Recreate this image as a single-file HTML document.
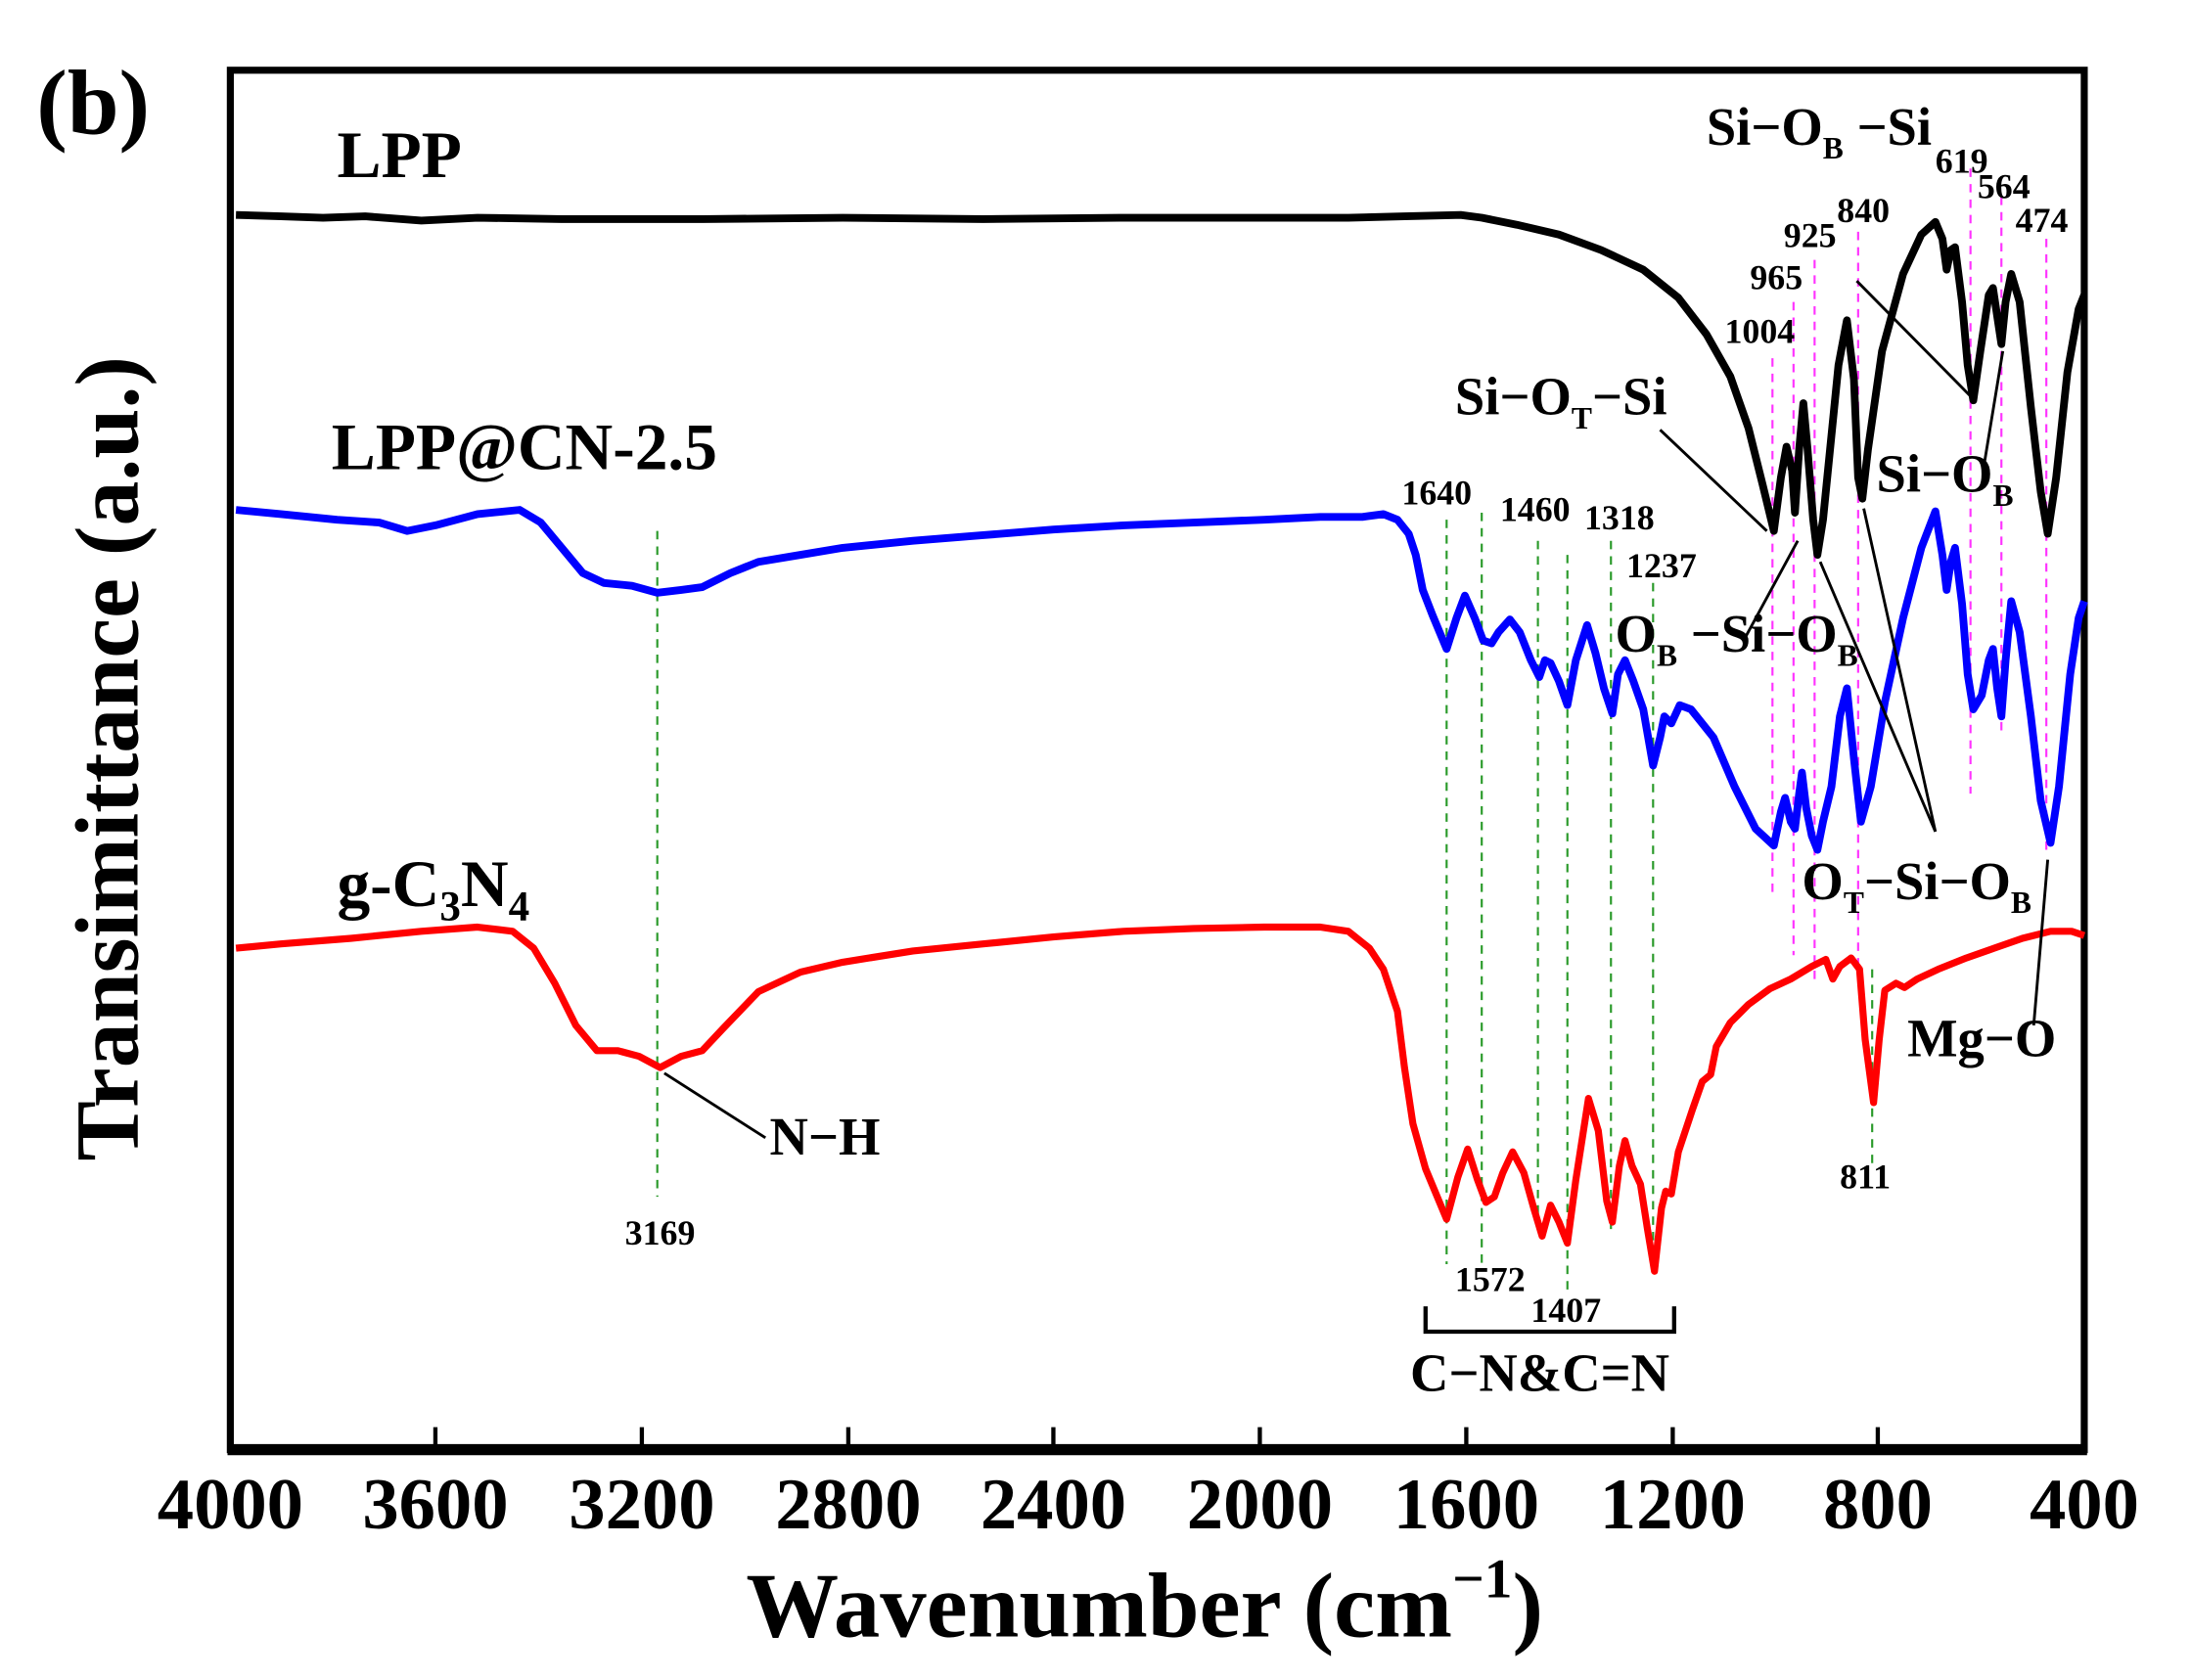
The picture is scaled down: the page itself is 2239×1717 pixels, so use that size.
<!DOCTYPE html>
<html><head><meta charset="utf-8"><style>
html,body{margin:0;padding:0;background:#fff;}
svg{display:block;}
text{font-family:"Liberation Serif",serif;font-weight:bold;fill:#000;}
</style></head><body>
<svg width="2239" height="1717" viewBox="0 0 1560 1196" preserveAspectRatio="none" xmlns="http://www.w3.org/2000/svg">
<rect x="0" y="0" width="1560" height="1196" fill="#fff"/>
<rect x="164" y="50" width="1320" height="982" fill="none" stroke="#000" stroke-width="5"/>
<line x1="162" y1="1032" x2="1486" y2="1032" stroke="#000" stroke-width="8"/>
<g stroke="#000" stroke-width="3">
<line x1="310" y1="1032" x2="310" y2="1016"/><line x1="457" y1="1032" x2="457" y2="1016"/>
<line x1="604" y1="1032" x2="604" y2="1016"/><line x1="750" y1="1032" x2="750" y2="1016"/>
<line x1="897" y1="1032" x2="897" y2="1016"/><line x1="1044" y1="1032" x2="1044" y2="1016"/>
<line x1="1191" y1="1032" x2="1191" y2="1016"/><line x1="1337" y1="1032" x2="1337" y2="1016"/>
</g>
<g font-size="52" text-anchor="middle">
<text x="164" y="1088">4000</text><text x="310" y="1088">3600</text><text x="457" y="1088">3200</text>
<text x="604" y="1088">2800</text><text x="750" y="1088">2400</text><text x="897" y="1088">2000</text>
<text x="1044" y="1088">1600</text><text x="1191" y="1088">1200</text><text x="1337" y="1088">800</text>
<text x="1484" y="1088">400</text>
</g>
<text x="815" y="1165" font-size="66" text-anchor="middle">Wavenumber (cm<tspan font-size="40" dy="-28">−1</tspan><tspan dy="28">)</tspan></text>
<text transform="translate(98,540) rotate(-90)" font-size="64" text-anchor="middle">Transimittance (a.u.)</text>
<text x="26" y="95" font-size="66">(b)</text>
<text x="240" y="126" font-size="47">LPP</text>
<text x="236" y="334" font-size="47">LPP@CN-2.5</text>
<text x="240" y="645" font-size="47">g-C<tspan font-size="30" dy="10">3</tspan><tspan dy="-10">N</tspan><tspan font-size="30" dy="10">4</tspan></text>

<g stroke="#2a9a2a" stroke-width="1.5" stroke-dasharray="6,5" fill="none">
<line x1="468" y1="378" x2="468" y2="852"/><line x1="1030" y1="370" x2="1030" y2="900"/>
<line x1="1055" y1="365" x2="1055" y2="905"/><line x1="1095" y1="385" x2="1095" y2="880"/>
<line x1="1116" y1="395" x2="1116" y2="922"/><line x1="1147" y1="385" x2="1147" y2="880"/>
<line x1="1177" y1="415" x2="1177" y2="905"/><line x1="1333" y1="690" x2="1333" y2="832"/>
</g>
<g stroke="#ff33ff" stroke-width="1.5" stroke-dasharray="6,5" fill="none">
<line x1="1262" y1="255" x2="1262" y2="640"/><line x1="1277" y1="215" x2="1277" y2="680"/>
<line x1="1292" y1="185" x2="1292" y2="700"/><line x1="1323" y1="165" x2="1323" y2="690"/>
<line x1="1403" y1="120" x2="1403" y2="565"/><line x1="1425" y1="140" x2="1425" y2="520"/>
<line x1="1457" y1="170" x2="1457" y2="610"/>
</g>

<polyline fill="none" stroke="#000" stroke-width="5.5" stroke-linejoin="round" points="168,153 200,154 230,155 260,154 300,157 340,155 400,156 500,156 600,155 700,156 800,155 900,155 960,155 1000,154 1040,153 1055,155 1080,160 1110,167 1140,178 1170,192 1195,212 1215,238 1232,268 1245,305 1255,345 1263,378 1268,340 1272,318 1276,335 1278,365 1281,320 1284,287 1287,320 1291,370 1294,395 1298,370 1303,320 1309,260 1315,228 1320,270 1323,340 1326,355 1330,320 1340,250 1355,195 1368,167 1378,158 1383,170 1386,192 1389,178 1392,176 1397,215 1401,260 1405,285 1410,250 1416,210 1419,205 1422,225 1425,245 1428,215 1432,195 1438,215 1446,290 1453,350 1458,380 1464,340 1472,265 1480,220 1484,210"/>
<polyline fill="none" stroke="#0000ff" stroke-width="5.5" stroke-linejoin="round" points="168,363 200,366 240,370 270,372 290,378 310,374 340,366 370,363 385,372 400,390 415,408 430,415 450,417 468,422 485,420 500,418 520,408 540,400 570,395 600,390 650,385 700,381 750,377 800,374 850,372 900,370 940,368 970,368 985,366 995,370 1003,380 1008,395 1013,420 1020,438 1030,462 1037,440 1043,424 1050,440 1056,456 1062,458 1067,450 1075,441 1082,450 1090,470 1096,482 1100,470 1104,472 1110,485 1116,502 1122,470 1130,445 1136,465 1142,490 1148,508 1152,480 1157,470 1163,485 1170,505 1177,545 1182,525 1185,510 1190,515 1196,502 1204,505 1212,515 1220,525 1235,560 1250,590 1263,602 1268,578 1271,568 1275,585 1278,590 1281,565 1283,550 1286,575 1290,595 1294,605 1298,585 1304,560 1310,510 1315,490 1320,540 1325,585 1332,560 1342,500 1355,440 1368,390 1378,364 1383,395 1386,420 1389,400 1392,390 1397,430 1401,480 1405,505 1411,495 1416,470 1419,462 1422,490 1425,510 1428,470 1432,428 1438,450 1446,510 1453,570 1460,600 1466,560 1474,480 1480,440 1484,428"/>
<polyline fill="none" stroke="#ff0000" stroke-width="5" stroke-linejoin="round" points="168,675 200,672 250,668 300,663 340,660 365,663 380,675 395,700 410,730 425,748 440,748 455,752 470,760 485,752 500,748 515,732 540,706 570,692 600,685 650,677 700,672 750,667 800,663 850,661 900,660 940,660 960,663 975,675 985,690 995,720 1000,760 1006,800 1015,832 1030,868 1038,838 1045,818 1052,840 1058,856 1064,852 1070,835 1077,820 1085,835 1092,860 1098,880 1104,858 1110,870 1116,885 1122,840 1131,782 1138,805 1144,855 1148,870 1153,830 1157,812 1162,830 1168,843 1173,875 1178,905 1183,860 1186,848 1190,850 1195,820 1205,790 1212,770 1218,765 1222,745 1232,728 1245,715 1260,704 1275,697 1290,688 1300,683 1305,697 1310,688 1318,682 1324,690 1328,740 1334,785 1338,740 1342,705 1350,700 1356,703 1365,697 1380,690 1400,682 1420,675 1440,668 1460,663 1475,663 1484,666"/>

<g font-size="25">
<text x="1228" y="244">1004</text><text x="1246" y="206">965</text><text x="1270" y="176">925</text>
<text x="1308" y="158">840</text><text x="1378" y="123">619</text><text x="1408" y="141">564</text>
<text x="1435" y="165">474</text><text x="998" y="359">1640</text><text x="1068" y="371">1460</text>
<text x="1128" y="377">1318</text><text x="1158" y="411">1237</text><text x="445" y="886">3169</text>
<text x="1036" y="919">1572</text><text x="1090" y="941">1407</text><text x="1310" y="846">811</text>
</g>
<g font-size="38">
<text x="1215" y="103">Si−O<tspan font-size="22" dy="10">B</tspan><tspan dy="-10"> −Si</tspan></text>
<text x="1036" y="295">Si−O<tspan font-size="22" dy="10">T</tspan><tspan dy="-10">−Si</tspan></text>
<text x="1336" y="350">Si−O<tspan font-size="22" dy="10">B</tspan></text>
<text x="1150" y="464">O<tspan font-size="22" dy="10">B</tspan><tspan dy="-10"> −Si−O</tspan><tspan font-size="22" dy="10">B</tspan></text>
<text x="1283" y="640">O<tspan font-size="22" dy="10">T</tspan><tspan dy="-10">−Si−O</tspan><tspan font-size="22" dy="10">B</tspan></text>
<text x="1358" y="752">Mg−O</text>
<text x="548" y="822">N−H</text>
<text x="1004" y="990">C−N&amp;C=N</text>
</g>
<g stroke="#000" stroke-width="2" fill="none">
<line x1="1322" y1="200" x2="1403" y2="282"/>
<line x1="1182" y1="306" x2="1258" y2="378"/>
<line x1="1242" y1="455" x2="1280" y2="385"/>
<line x1="1378" y1="592" x2="1296" y2="400"/>
<line x1="1378" y1="592" x2="1327" y2="362"/>
<line x1="1412" y1="335" x2="1426" y2="250"/>
<line x1="1448" y1="730" x2="1458" y2="612"/>
<line x1="545" y1="810" x2="473" y2="764"/>
<polyline stroke-width="3" points="1015,930 1015,948 1192,948 1192,930"/>
</g>
</svg>
</body></html>
